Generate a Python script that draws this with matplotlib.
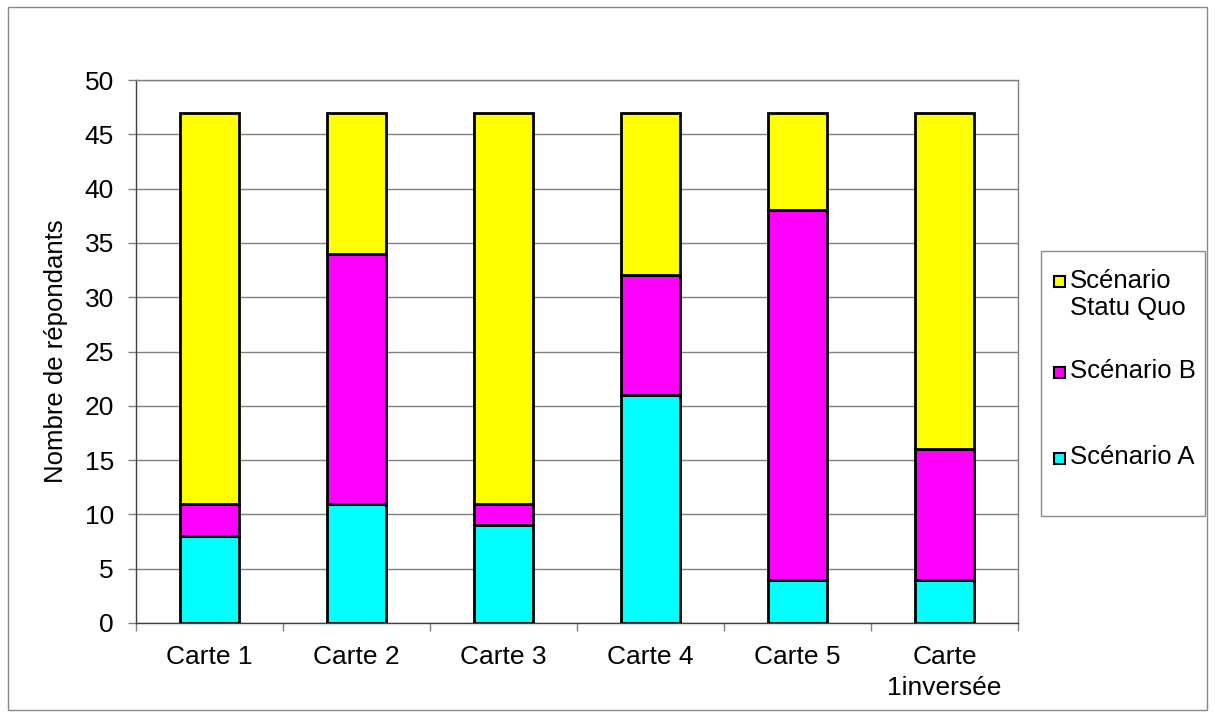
import matplotlib
matplotlib.use("Agg")
import matplotlib.pyplot as plt
from matplotlib.patches import Rectangle
import numpy as np

plt.rcParams['font.family'] = ['Liberation Sans', 'DejaVu Sans']

categories = ["Carte 1", "Carte 2", "Carte 3", "Carte 4", "Carte 5", "Carte\n1inversée"]
scenario_a = [8, 11, 9, 21, 4, 4]
scenario_b = [3, 23, 2, 11, 34, 12]
statu_quo = [36, 13, 36, 15, 9, 31]

series = [
    ("Scénario A", scenario_a, "#00FFFF"),
    ("Scénario B", scenario_b, "#FF00FF"),
    ("Scénario\nStatu Quo", statu_quo, "#FFFF00"),
]

W, H = 1215, 718
fig = plt.figure(figsize=(W / 100, H / 100), dpi=100)

# outer chart border
fig.patches.append(Rectangle((8 / W, 1 - 710 / H), (1207 - 8) / W, (710 - 7) / H,
                             transform=fig.transFigure, fill=False,
                             edgecolor="#888888", linewidth=1.0))

ax = fig.add_axes([136 / W, 1 - 623 / H, (1018 - 136) / W, (623 - 80) / H])

x = np.arange(len(categories))
bottom = np.zeros(len(categories))
for label, vals, color in series:
    ax.bar(x, vals, width=0.4, bottom=bottom, color=color,
           edgecolor="black", linewidth=2.0, zorder=3)
    bottom += np.array(vals)

ax.set_xlim(-0.5, len(categories) - 0.5)
ax.set_ylim(0, 50)
ax.set_yticks(np.arange(0, 51, 5))
ax.yaxis.grid(True, color="#808080", linewidth=1.0, zorder=0)
ax.set_axisbelow(True)

ax.set_xticks(x)
ax.set_xticklabels(categories, fontsize=19, linespacing=1.35)
ax.set_xticks(np.arange(-0.5, len(categories)), minor=True)
ax.tick_params(axis="x", which="major", length=0, pad=16)
ax.tick_params(axis="x", which="minor", length=6, width=1, color="#808080")
ax.tick_params(axis="y", length=6, width=1, color="#808080", labelsize=19, pad=10)

for side in ("top", "right"):
    ax.spines[side].set_color("#808080")
for side in ("left", "bottom"):
    ax.spines[side].set_color("#404040")
for s in ax.spines.values():
    s.set_linewidth(1.0)

ax.set_ylabel("Nombre de répondants", fontsize=18.5, labelpad=12)

# legend box
fig.patches.append(Rectangle((1041 / W, 1 - 516 / H), (1205 - 1041) / W, (516 - 251) / H,
                             transform=fig.transFigure, fill=True, facecolor="white",
                             edgecolor="#888888", linewidth=1.0))
legend_rows = [282, 372, 458]
for (label, vals, color), yc in zip(series[::-1], legend_rows):
    fig.patches.append(Rectangle((1054 / W, 1 - (yc + 5.5) / H), 11 / W, 11 / H,
                                 transform=fig.transFigure, facecolor=color,
                                 edgecolor="black", linewidth=1.5))
    fig.text(1070 / W, 1 - (yc - 13) / H, label, fontsize=18.5, ha="left", va="top",
             linespacing=1.15)

fig.savefig("out.png", dpi=100)
